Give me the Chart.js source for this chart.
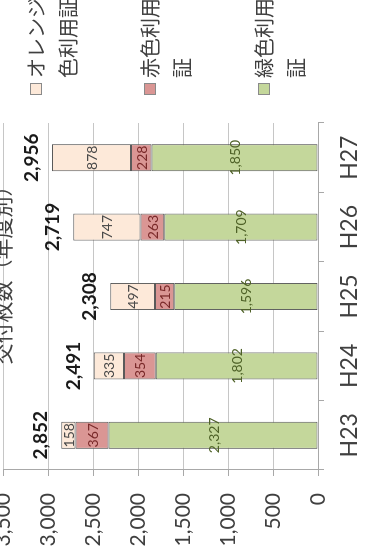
<!DOCTYPE html>
<html>
<head>
<meta charset="utf-8">
<script src="https://cdn.jsdelivr.net/npm/chart.js@4.4.1/dist/chart.umd.min.js"></script>
<style>
html,body{margin:0;padding:0;background:#fff;overflow:hidden;width:370px;height:559px;}
#wrap{position:absolute;left:0;top:0;width:559px;height:370px;transform-origin:0 0;transform:translate(0,559px) rotate(-90deg);background:#fff;}
canvas{display:block;}
</style>
</head>
<body>
<div id="wrap"><canvas id="c" width="559" height="370"></canvas></div>
<script>
// ---- data ----
const categories = ['H23', 'H24', 'H25', 'H26', 'H27'];
const greenValues = [2327, 1802, 1596, 1709, 1850];
const redValues = [367, 354, 215, 263, 228];
const orangeValues = [158, 335, 497, 747, 878];
const seriesNames = ['緑色利用証', '赤色利用証', 'オレンジ色利用証'];
const yTickLabels = ['0', '500', '1,000', '1,500', '2,000', '2,500', '3,000', '3,500'];
const titleText = '交付枚数（年度別）';

// ---- styles ----
const COLORS = {
  green: '#c4d79b', red: '#da9694', orange: '#fde9d9',
  greenText: '#4f6228', redText: '#7a2a2a', orangeText: '#4a4a4a',
  grid: '#c6c6c6', axis: '#a8a8a8', text: '#404040', barBorder: '#5a5a5a'
};
const LATIN = 'Lato, "Liberation Sans", sans-serif';
const CJK = '"Noto Sans CJK JP", sans-serif';

const fmt = v => v.toLocaleString('en-US');

const labelsPlugin = {
  id: 'labelsPlugin',
  afterDatasetsDraw(chart) {
    const ctx = chart.ctx;
    ctx.save();
    // segment labels
    ctx.textAlign = 'center';
    ctx.textBaseline = 'middle';
    ctx.font = '14px ' + LATIN;
    chart.data.datasets.forEach((ds, di) => {
      const meta = chart.getDatasetMeta(di);
      meta.data.forEach((bar, i) => {
        const p = bar.getProps(['x', 'y', 'base'], true);
        ctx.fillStyle = ds.labelColor;
        ctx.fillText(fmt(ds.data[i]), p.x, (p.y + p.base) / 2 + 1);
      });
    });
    // totals
    const lastMeta = chart.getDatasetMeta(chart.data.datasets.length - 1);
    ctx.font = 'bold 19px ' + LATIN;
    ctx.fillStyle = '#1a1a1a';
    ctx.textBaseline = 'alphabetic';
    categories.forEach((c, i) => {
      const total = chart.data.datasets.reduce((s, ds) => s + ds.data[i], 0);
      const bar = lastMeta.data[i];
      ctx.fillText(fmt(total), bar.x, bar.y - 14);
    });
    // title
    ctx.font = '21px ' + CJK;
    ctx.fillStyle = COLORS.text;
    ctx.textBaseline = 'middle';
    ctx.fillText(titleText, 289, 2);
    // legend (orange, red, green from top)
    ctx.textAlign = 'left';
    ctx.font = '20px ' + CJK;
    const order = [2, 1, 0];
    order.forEach((di, k) => {
      const ds = chart.data.datasets[di];
      const cy = 36 + 114 * k;
      ctx.fillStyle = ds.backgroundColor;
      ctx.fillRect(464, cy - 6, 12, 12);
      ctx.strokeStyle = '#8a8a8a';
      ctx.lineWidth = 1;
      ctx.strokeRect(464.5, cy - 5.5, 11, 11);
      const name = ds.label;
      const lines = [];
      for (let j = 0; j < name.length; j += 4) lines.push(name.slice(j, j + 4));
      ctx.fillStyle = COLORS.text;
      lines.forEach((ln, li) => ctx.fillText(ln, 481, cy + 32 * li));
    });
    ctx.restore();
  }
};

new Chart(document.getElementById('c'), {
  type: 'bar',
  data: {
    labels: categories,
    datasets: [
      { label: seriesNames[0], data: greenValues, backgroundColor: COLORS.green, labelColor: COLORS.greenText },
      { label: seriesNames[1], data: redValues, backgroundColor: COLORS.red, labelColor: COLORS.redText },
      { label: seriesNames[2], data: orangeValues, backgroundColor: COLORS.orange, labelColor: COLORS.orangeText }
    ]
  },
  options: {
    responsive: false,
    animation: false,
    devicePixelRatio: 1,
    layout: { padding: { left: 0, right: 123, top: 3, bottom: 0 } },
    plugins: { legend: { display: false }, title: { display: false }, tooltip: { enabled: false } },
    datasets: {
      bar: { categoryPercentage: 1, barPercentage: 0.39, borderColor: COLORS.barBorder, borderWidth: 1, borderSkipped: false }
    },
    scales: {
      x: {
        stacked: true,
        offset: true,
        grid: { offset: true, drawOnChartArea: false, drawTicks: true, tickLength: 6, color: COLORS.axis },
        border: { display: true, color: COLORS.axis },
        ticks: { font: { family: LATIN, size: 23 }, color: COLORS.text, padding: 12 },
        afterFit(s) { s.height = 52; s.paddingLeft = 0; s.paddingRight = 0; }
      },
      y: {
        stacked: true,
        min: 0,
        max: 3500,
        ticks: {
          stepSize: 500,
          font: { family: LATIN, size: 21 },
          color: COLORS.text,
          padding: 17,
          callback: (v, i) => yTickLabels[i]
        },
        grid: { color: COLORS.grid, tickLength: 6, tickColor: COLORS.axis },
        border: { display: true, color: COLORS.axis },
        afterFit(s) { s.width = 89; s.paddingTop = 0; s.paddingBottom = 0; }
      }
    }
  },
  plugins: [labelsPlugin]
});
</script>
</body>
</html>
